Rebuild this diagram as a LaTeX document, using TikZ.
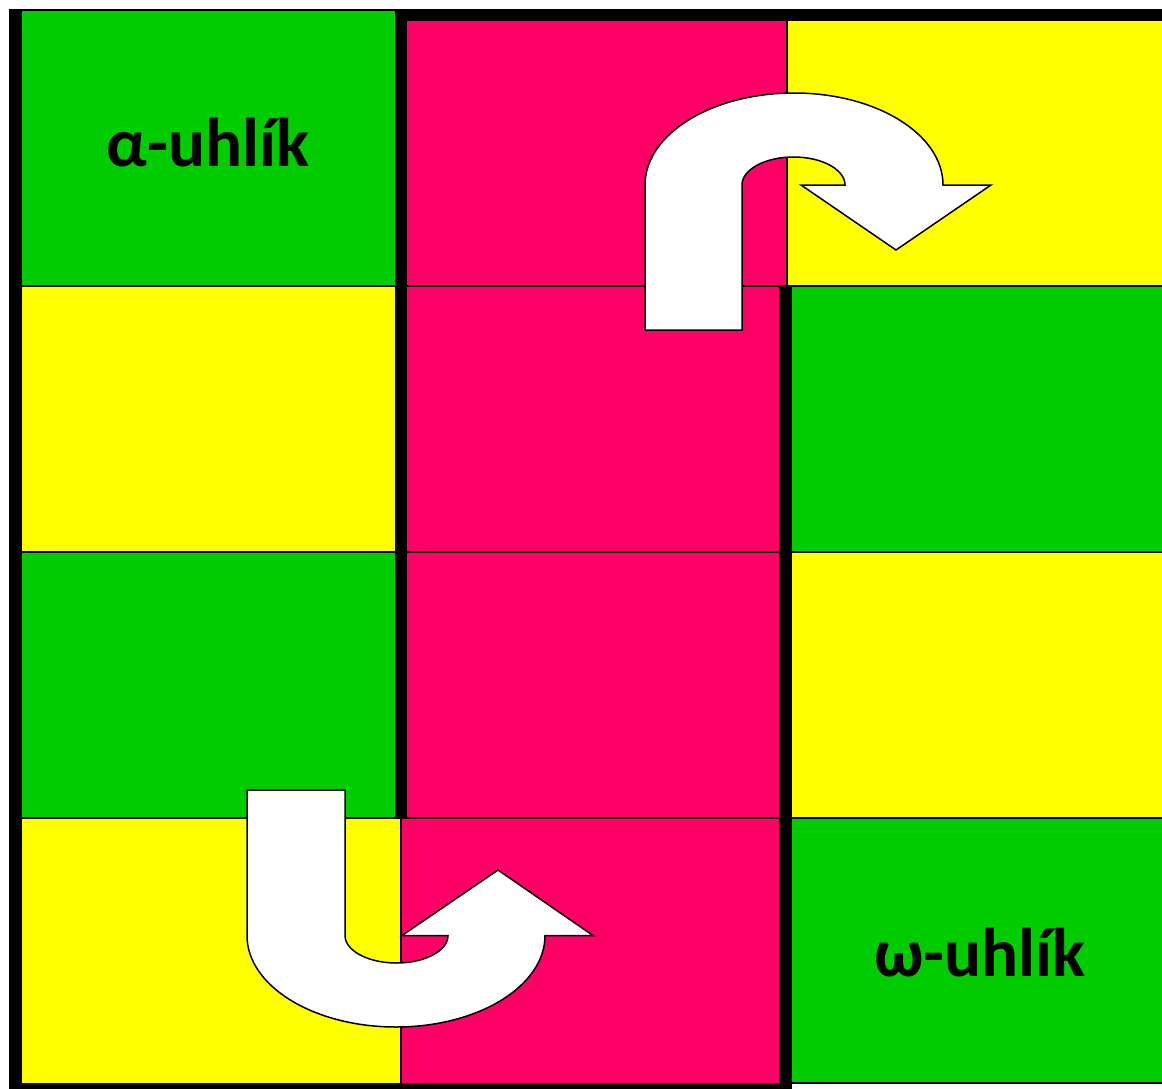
\documentclass[tikz,border=0pt]{standalone}
\usepackage{fontspec}
\setmainfont{Carlito}
\definecolor{cgreen}{RGB}{0,204,0}
\definecolor{cyellow}{RGB}{255,255,0}
\definecolor{cpink}{RGB}{255,0,102}
\begin{document}
\begin{tikzpicture}[x=1pt,y=1pt,
  cell/.style={draw=black,line width=1.5pt},
  gcell/.style={cell,fill=cgreen},
  ycell/.style={cell,fill=cyellow},
  pcell/.style={cell,fill=cpink},
  wall/.style={fill=black},
  uturn/.style={fill=white,draw=black,line width=1.5pt,line join=miter},
  lbl/.style={font=\fontsize{69}{75}\selectfont\bfseries,inner sep=0pt,anchor=center}]
\useasboundingbox (0,0) rectangle (1162,-1089);
% column 1
\path[gcell] (21,-10) rectangle (396,-286);
\path[ycell] (21,-286) rectangle (396,-552);
\path[gcell] (21,-552) rectangle (396,-818);
\path[ycell] (21,-818) rectangle (401,-1084);
% column 2
\path[pcell] (401,-10) rectangle (787,-286);
\path[pcell] (401,-286) rectangle (780,-552);
\path[pcell] (401,-552) rectangle (780,-818);
\path[pcell] (401,-818) rectangle (780,-1084);
% column 3
\path[ycell] (787,-10) rectangle (1166,-286);
\path[gcell] (787,-286) rectangle (1166,-552);
\path[ycell] (787,-552) rectangle (1166,-818);
\path[gcell] (787,-818) rectangle (1166,-1083);
% thick walls
\path[wall] (9,-9) rectangle (21,-1092);
\path[wall] (395,-9) rectangle (1166,-21);
\path[wall] (395,-9) rectangle (407,-818);
\path[wall] (780,-286) rectangle (792,-1092);
\path[wall] (9,-1083) rectangle (792,-1092);
% labels
\node[lbl] (alpha) at (208,-143) {α-uhlík};
\node[lbl] (omega) at (980,-953) {ω-uhlík};
% upper U-turn arrow
\path[uturn] (645,-330) -- (645,-185)
  arc[start angle=180,end angle=0,x radius=149pt,y radius=92pt]
  -- (991,-185) -- (896,-250) -- (801,-185) -- (845,-185)
  arc[start angle=0,end angle=180,x radius=51.5pt,y radius=28pt]
  -- (742,-330) -- cycle;
% lower U-turn arrow
\path[uturn] (247,-790) -- (247,-935.5)
  arc[start angle=180,end angle=360,x radius=149pt,y radius=91.5pt]
  -- (593,-935.5) -- (498,-870) -- (402,-935.5) -- (448,-935.5)
  arc[start angle=360,end angle=180,x radius=51.5pt,y radius=27.5pt]
  -- (345,-790) -- cycle;
\end{tikzpicture}
\end{document}
